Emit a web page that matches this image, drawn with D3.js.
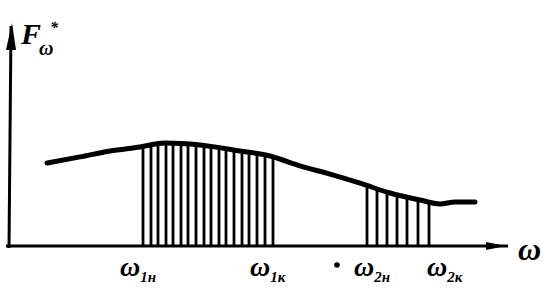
<!DOCTYPE html>
<html>
<head>
<meta charset="utf-8">
<script src="https://cdn.jsdelivr.net/npm/d3@7"></script>
<style>
  body { margin: 0; background: #fff; }
  text { font-family: "Liberation Serif", "DejaVu Serif", serif; font-style: italic; font-weight: bold; fill: #000; }
</style>
</head>
<body>
<div id="chart"></div>
<script>
// spectrum curve (omega in arbitrary units, F* in %)
var omega = [37, 70, 100, 130, 155, 190, 230, 260, 290, 320, 350, 380, 410, 430, 445, 465];
var fValue = [37.7, 40.5, 43.2, 45, 46.8, 45.9, 43.2, 40.9, 36.4, 32.7, 28.6, 24.1, 20.9, 19.1, 20, 20];

// hatched bands
var band1 = [133, 141, 148, 156, 163, 171, 178, 186, 194, 201, 209, 216, 224, 232, 239, 247, 255, 263];
var band2 = [357, 367, 377, 387, 397, 408, 419];

// tick labels on the omega axis
var tickAt = [133, 263, 367, 440];
var tickSub = ["1н", "1к", "2н", "2к"];

var width = 556, height = 295;

var svg = d3.select("#chart").append("svg")
    .attr("width", width)
    .attr("height", height);

var x = d3.scaleLinear().domain([0, 495]).range([10, 505]);
var y = d3.scaleLinear().domain([0, 100]).range([246, 26]);

// interpolate curve height for the hatch lines
function fAt(w) {
    var i = d3.bisectLeft(omega, w);
    if (i <= 0) return fValue[0];
    if (i >= omega.length) return fValue[fValue.length - 1];
    var t = (w - omega[i - 1]) / (omega[i] - omega[i - 1]);
    return fValue[i - 1] + t * (fValue[i] - fValue[i - 1]);
}

// hatching
svg.selectAll("line.hatch")
    .data(band1.concat(band2)).enter()
    .append("line")
        .attr("class", "hatch")
        .attr("x1", function(d) { return x(d); })
        .attr("x2", function(d) { return x(d); })
        .attr("y1", function(d) { return y(fAt(d)); })
        .attr("y2", y(0))
        .attr("stroke", "#000")
        .attr("stroke-width", 2.8);

// curve
var line = d3.line()
    .x(function(d, i) { return x(omega[i]); })
    .y(function(d) { return y(d); })
    .curve(d3.curveMonotoneX);

svg.append("path")
    .datum(fValue)
    .attr("d", line)
    .attr("fill", "none")
    .attr("stroke", "#000")
    .attr("stroke-width", 5)
    .attr("stroke-linecap", "round");

// axes
svg.append("line")
    .attr("x1", 6).attr("y1", y(0))
    .attr("x2", 508).attr("y2", y(0))
    .attr("stroke", "#000").attr("stroke-width", 3);
svg.append("path")
    .attr("d", "M486," + (y(0) - 4) + " L506," + y(0) + " L486," + (y(0) + 4) + " Z")
    .attr("fill", "#000");

svg.append("line")
    .attr("x1", 9).attr("y1", y(0) + 2)
    .attr("x2", 11).attr("y2", 26)
    .attr("stroke", "#000").attr("stroke-width", 3);
svg.append("path")
    .attr("d", "M6,50 L12,23 L16,50 Z")
    .attr("fill", "#000");

// tick labels
var labels = svg.selectAll("g.tick")
    .data(tickAt).enter()
    .append("g")
        .attr("class", "tick")
        .attr("transform", function(d) { return "translate(" + (x(d) - 23) + ",276)"; });

labels.append("text")
    .attr("font-size", 28)
    .text("ω")
  .append("tspan")
    .attr("font-size", 15)
    .attr("dy", 6)
    .text(function(d, i) { return tickSub[i]; });

svg.append("circle")
    .attr("cx", 337).attr("cy", 265).attr("r", 2.8)
    .attr("fill", "#000");

// axis titles
svg.append("text")
    .attr("x", 518).attr("y", 260)
    .attr("font-size", 32)
    .text("ω");

svg.append("text")
    .attr("x", 21).attr("y", 44)
    .attr("font-size", 30)
    .attr("font-weight", "normal")
    .text("F");
svg.append("text")
    .attr("x", 39).attr("y", 55)
    .attr("font-size", 20)
    .text("ω");
svg.append("text")
    .attr("x", 50).attr("y", 33)
    .attr("font-size", 16)
    .text("*");
</script>
</body>
</html>
